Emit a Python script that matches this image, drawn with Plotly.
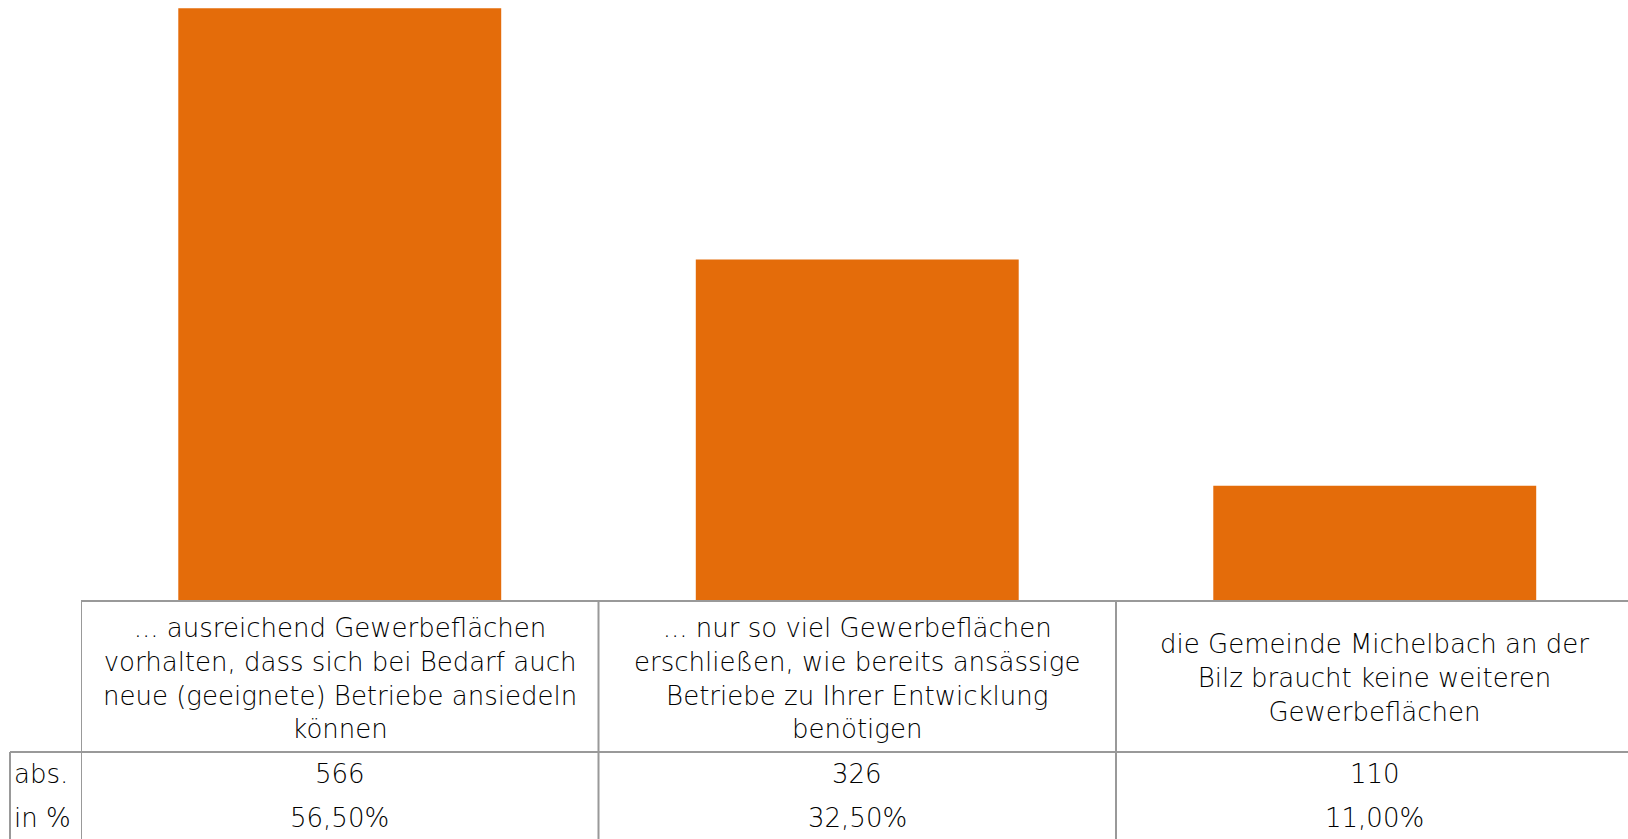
import plotly.graph_objects as go

# data
categories = [
    "... ausreichend Gewerbeflächen<br>vorhalten, dass sich bei Bedarf auch<br>neue (geeignete) Betriebe ansiedeln<br>können",
    "... nur so viel Gewerbeflächen<br>erschließen, wie bereits ansässige<br>Betriebe zu Ihrer Entwicklung<br>benötigen",
    "die Gemeinde Michelbach an der<br>Bilz braucht keine weiteren<br>Gewerbeflächen",
]
abs_values = [566, 326, 110]
pct_values = [56.50, 32.50, 11.00]
row_labels = ["abs.", "in %"]

W, H = 1628, 839
plot_left, plot_top, plot_bottom = 81, 8, 601
plot_h = plot_bottom - plot_top
plot_w = W - plot_left

bar_color = '#E46C0A'
line_color = '#999999'
text_color = '#000000'
font_family = 'DejaVu Sans, Open Sans, sans-serif'


def px_y(p):
    # pixel y -> paper y
    return (plot_bottom - p) / plot_h


def px_x(p):
    # pixel x -> paper x
    return (p - plot_left) / plot_w


xs = list(range(len(categories)))

fig = go.Figure()
fig.add_trace(go.Bar(x=xs, y=abs_values, width=0.624,
                     marker=dict(color=bar_color, line=dict(width=0)),
                     hoverinfo='skip'))

shapes = []
line = dict(color=line_color, width=2)
# top line of the table (axis)
shapes.append(dict(type='line', xref='paper', yref='paper',
                   x0=0, x1=1, y0=0, y1=0, line=line))
# line between header row and data rows
shapes.append(dict(type='line', xref='paper', yref='paper',
                   x0=px_x(10), x1=1, y0=px_y(752), y1=px_y(752), line=line))
# vertical cell borders
for i in range(len(categories) + 1):
    shapes.append(dict(type='line', xref='x', yref='paper',
                       x0=i - 0.5, x1=i - 0.5, y0=0, y1=px_y(845), line=line))
# left border of row labels
shapes.append(dict(type='line', xref='paper', yref='paper',
                   x0=px_x(10), x1=px_x(10), y0=px_y(752), y1=px_y(845), line=line))

annotations = []
font = dict(family=font_family, size=26, color=text_color, weight=200)
for i, cat in enumerate(categories):
    annotations.append(dict(x=i, y=px_y(678), xref='x', yref='paper', text=cat,
                            showarrow=False, font=font, align='center',
                            xanchor='center', yanchor='middle'))
    annotations.append(dict(x=i, y=px_y(774), xref='x', yref='paper',
                            text=str(abs_values[i]), showarrow=False, font=font,
                            xanchor='center', yanchor='middle'))
    annotations.append(dict(x=i, y=px_y(818), xref='x', yref='paper',
                            text=f"{pct_values[i]:.2f}%".replace('.', ','),
                            showarrow=False, font=font,
                            xanchor='center', yanchor='middle'))
for lbl, yy in zip(row_labels, [774, 818]):
    annotations.append(dict(x=px_x(12), y=px_y(yy), xref='paper', yref='paper',
                            text=lbl, showarrow=False, font=font,
                            xanchor='left', yanchor='middle'))

# y range so that 566 ends at y ~8
y_max = 566 * plot_h / (601 - 8.3)

fig.update_layout(
    width=W, height=H,
    margin=dict(l=plot_left, r=0, t=plot_top, b=H - plot_bottom, pad=0),
    xaxis=dict(visible=False, range=[-0.5, -0.5 + plot_w / 517.5]),
    yaxis=dict(visible=False, range=[0, y_max]),
    plot_bgcolor='white',
    paper_bgcolor='white',
    showlegend=False,
    shapes=shapes,
    annotations=annotations,
)

# drop the default 8px body margin so the figure fills the window
fig.write_html("out.html", config={'displayModeBar': False},
               post_script="document.body.style.margin='0';document.body.style.overflow='hidden';")
